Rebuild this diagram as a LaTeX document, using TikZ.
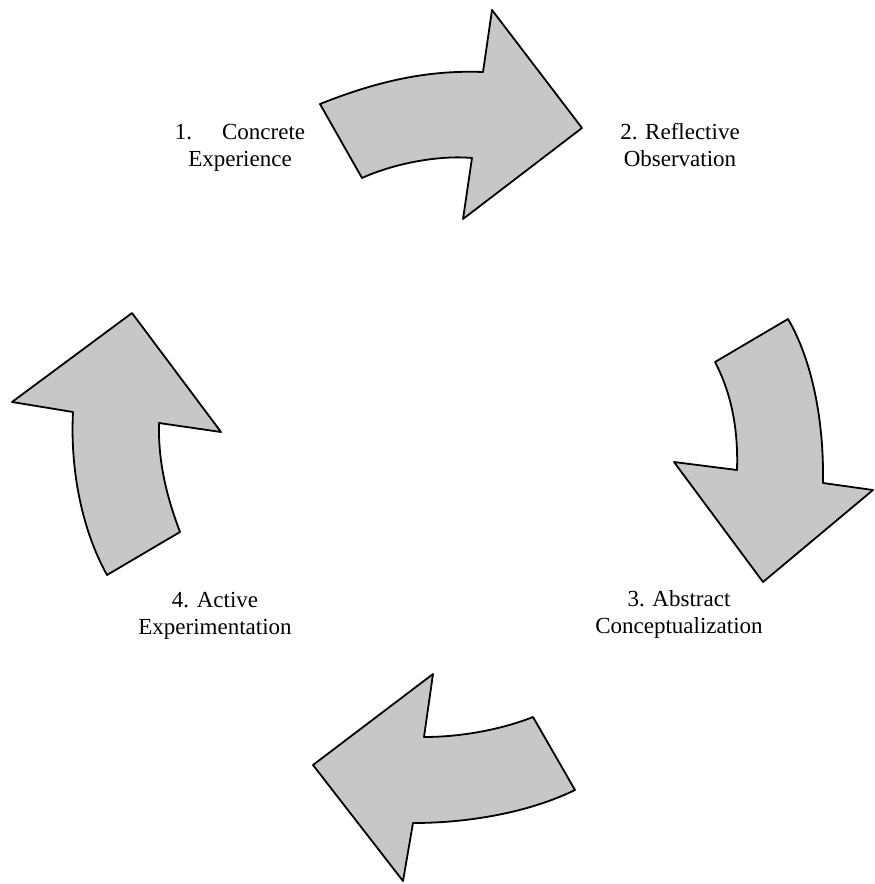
\documentclass[tikz,border=0pt]{standalone}
\usepackage{fontspec}
\setmainfont{Liberation Serif}
\begin{document}
\begin{tikzpicture}[x=1pt,y=-1pt,
  bigarrow/.style={draw=black,line width=1.8pt,fill=black!22,line join=round},
  lbl/.style={align=center,font=\fontsize{23}{27}\selectfont,inner sep=0pt,anchor=base}]
\useasboundingbox[fill=white] (0,0) rectangle (875,884);
% Arrow 1 (top)
\path[bigarrow] (320,104) .. controls (380,80) and (430,70) .. (483,72)
  -- (492,10) -- (582,128) -- (463,219) -- (472,158)
  .. controls (440,155) and (395,163) .. (362,178) -- cycle;
% Arrow 2 (right)
\path[bigarrow] (788,319) -- (715,362) .. controls (735,400) and (738,440) .. (737,470)
  -- (674,462) -- (763,582) -- (873,490) -- (823,483)
  .. controls (824,420) and (812,360) .. (788,319) -- cycle;
% Arrow 3 (bottom)
\path[bigarrow] (533,717) .. controls (500,730) and (460,737) .. (424,737)
  -- (433,674) -- (313,765) -- (403,881) -- (413,823)
  .. controls (470,823) and (530,812) .. (575,790) -- cycle;
% Arrow 4 (left)
\path[bigarrow] (132,313) -- (221,432) -- (159,423)
  .. controls (158,465) and (168,500) .. (180,532) -- (107,575)
  .. controls (82,530) and (70,470) .. (73,412) -- (12,402) -- cycle;
% Labels (anchor = baseline of the last line)
\node[lbl] (ce) at (240,166) {1.\hspace{30pt}Concrete\\Experience};
\node[lbl] (ro) at (680,166) {2. Reflective\\Observation};
\node[lbl] (ac) at (679,633) {3. Abstract\\Conceptualization};
\node[lbl] (ae) at (215,634) {4. Active\\Experimentation};
\end{tikzpicture}
\end{document}
